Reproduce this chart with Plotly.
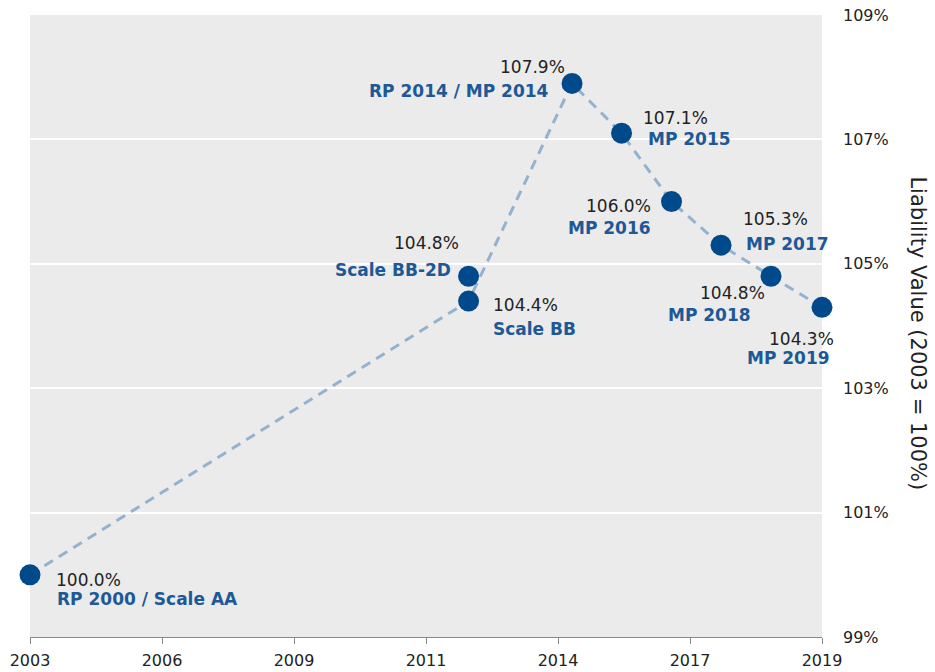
import plotly.graph_objects as go

# ---- data ----
years = [2003.0, 2011.86, 2011.86, 2013.95, 2014.95, 2015.96, 2016.96, 2017.97, 2019.0]
values = [100.0, 104.4, 104.8, 107.9, 107.1, 106.0, 105.3, 104.8, 104.3]
names = ["RP 2000 / Scale AA", "Scale BB", "Scale BB-2D", "RP 2014 / MP 2014",
         "MP 2015", "MP 2016", "MP 2017", "MP 2018", "MP 2019"]
on_line = [True, True, False, True, True, True, True, True, True]

x_tick_labels = ["2003", "2006", "2009", "2011", "2014", "2017", "2019"]
y_ticks = [99, 101, 103, 105, 107, 109]

# ---- label placement (styles, pixel offsets: dx right, dy down) ----
val_pos = [("left", 24, 5), ("left", 22, 4), ("right", -8, -33), ("right", -5, -16),
           ("left", 19, -15), ("right", -19, 4), ("left", 20, -26), ("right", -4, 17),
           ("right", 14, 32)]
name_pos = [("left", 25, 24), ("left", 22, 28), ("right", -16, -6), ("right", -21, 8),
            ("left", 24, 6), ("right", -19, 26), ("left", 23, -1), ("right", -18, 39),
            ("right", 10, 51)]

FONT = "DejaVu Sans, Verdana, sans-serif"
NAME_COLOR = "#1d5897"
VAL_COLOR = "#222222"
MARK_COLOR = "#004a8b"

lx = [x for x, f in zip(years, on_line) if f]
ly = [y for y, f in zip(values, on_line) if f]

fig = go.Figure()
fig.add_trace(go.Scatter(x=lx, y=ly, mode="lines",
                         line=dict(color="#93b2cf", width=3, dash="10px,7px"),
                         hoverinfo="skip", showlegend=False))
fig.add_trace(go.Scatter(x=years, y=values, mode="markers",
                         marker=dict(color=MARK_COLOR, size=21),
                         cliponaxis=False, showlegend=False))

anns = []
for x, y, n, vp, npos in zip(years, values, names, val_pos, name_pos):
    anns.append(dict(x=x, y=y, xref="x", yref="y", text=f"{y:.1f}%", showarrow=False,
                     xanchor=vp[0], yanchor="middle", xshift=vp[1], yshift=-vp[2],
                     font=dict(family=FONT, size=17, color=VAL_COLOR)))
    anns.append(dict(x=x, y=y, xref="x", yref="y", text=f"<b>{n}</b>", showarrow=False,
                     xanchor=npos[0], yanchor="middle", xshift=npos[1], yshift=-npos[2],
                     font=dict(family=FONT, size=17, color=NAME_COLOR)))

anns.append(dict(x=1.12, y=0.488, xref="paper", yref="paper", text="Liability Value (2003 = 100%)",
                 showarrow=False, textangle=90, xanchor="center", yanchor="middle",
                 font=dict(family=FONT, size=21, color="#222222")))

x0, x1 = 2003.0, 2019.0
tickvals = [x0 + i * (x1 - x0) / 6 for i in range(7)]

fig.update_layout(
    width=935, height=672,
    margin=dict(l=30, r=113, t=15, b=35, autoexpand=False),
    paper_bgcolor="white",
    plot_bgcolor="#ebebeb",
    annotations=anns,
    showlegend=False,
    xaxis=dict(range=[x0, x1], tickvals=tickvals, ticktext=x_tick_labels,
               showgrid=False, zeroline=False, showline=True, linecolor="#888888",
               linewidth=1, ticks="outside", ticklen=6, tickcolor="#888888",
               automargin=False, ticklabelstandoff=3,
               tickfont=dict(family=FONT, size=16, color="#222222")),
    yaxis=dict(range=[99, 109], side="right", tickvals=y_ticks,
               ticktext=[f"{v}%" for v in y_ticks], showgrid=True,
               gridcolor="white", gridwidth=2, zeroline=False, showline=False,
               ticks="", ticklabelstandoff=20, automargin=False,
               tickfont=dict(family=FONT, size=16, color="#222222")),
)

fig.write_html("out.html", config={"displayModeBar": False},
               post_script="document.body.style.margin='0';document.body.style.overflow='hidden';")
